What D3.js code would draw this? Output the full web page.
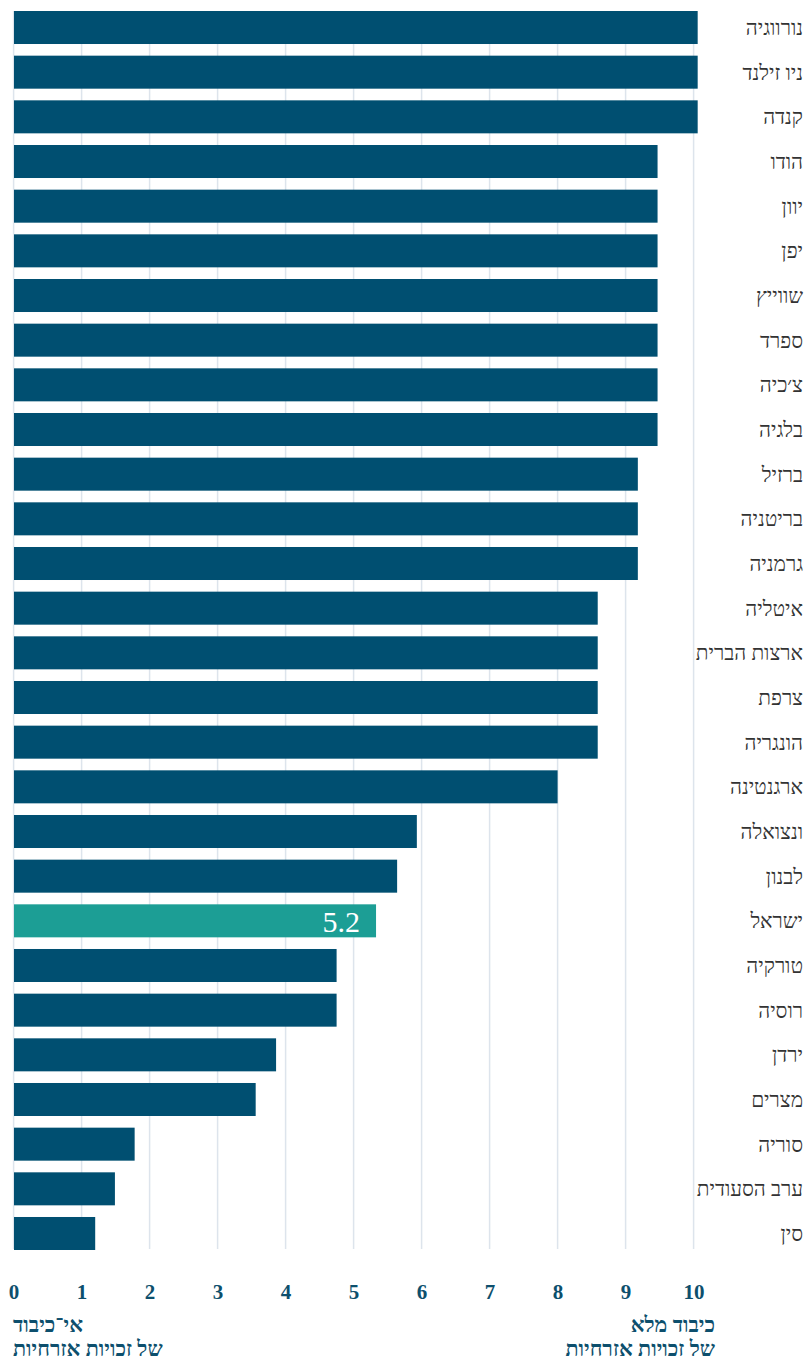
<!DOCTYPE html>
<html><head><meta charset="utf-8">
<script src="https://cdn.jsdelivr.net/npm/d3@7"></script>
<style>body{margin:0;background:#fff}svg{display:block}</style>
</head><body>
<svg id="c" width="808" height="1361"></svg>
<script>
const countries = ["נורווגיה","ניו זילנד","קנדה","הודו","יוון","יפן","שווייץ","ספרד","צ׳כיה","בלגיה","ברזיל","בריטניה","גרמניה","איטליה","ארצות הברית","צרפת","הונגריה","ארגנטינה","ונצואלה","לבנון","ישראל","טורקיה","רוסיה","ירדן","מצרים","סוריה","ערב הסעודית","סין"];
const values = [10.06,10.06,10.06,9.47,9.47,9.47,9.47,9.47,9.47,9.47,9.18,9.18,9.18,8.59,8.59,8.59,8.59,8.0,5.93,5.64,5.33,4.75,4.75,3.86,3.56,1.78,1.49,1.2];
const highlight = "ישראל";
const highlightLabel = "5.2";
const ticks = [0,1,2,3,4,5,6,7,8,9,10];
const leftCaption = ["אי־כיבוד","של זכויות אזרחיות"];
const rightCaption = ["כיבוד מלא","של זכויות אזרחיות"];

const svg = d3.select("#c");
const x = d3.scaleLinear().domain([0,10]).range([13.6,693.6]);
const y = d3.scaleBand().domain(countries).range([11,1250]).paddingInner(0.261).paddingOuter(0);
const data = countries.map((c,i)=>({c, v: values[i]}));

// gridlines
svg.append("g").selectAll("line").data(ticks).join("line")
  .attr("x1", d=>x(d)).attr("x2", d=>x(d))
  .attr("y1", 11).attr("y2", 1249)
  .attr("stroke", "#dde4ec").attr("stroke-width", 1.5);

// bars
svg.append("g").selectAll("rect").data(data).join("rect")
  .attr("x", x(0)+0.4).attr("y", d=>y(d.c))
  .attr("width", d=>x(d.v)-x(0)-0.4).attr("height", y.bandwidth())
  .attr("fill", d=> d.c===highlight ? "#1c9e95" : "#004f71");

// highlight value
const hd = data.find(d=>d.c===highlight);
svg.append("text").attr("x", x(hd.v)-16).attr("y", y(hd.c)+y.bandwidth()/2)
  .attr("dy","0.36em").attr("text-anchor","end")
  .attr("font-family","'Liberation Serif', serif").attr("font-size",30)
  .attr("fill","#fff").text(highlightLabel);

// country labels
svg.append("g").selectAll("text").data(data).join("text")
  .attr("x", 803).attr("y", d=>y(d.c)+y.bandwidth()/2)
  .attr("dy","0.36em").attr("text-anchor","end")
  .attr("font-family","'Liberation Serif', serif").attr("font-size",20.8)
  .attr("fill","#333").text(d=>d.c);

// axis
const axis = d3.axisBottom(x).tickValues(ticks).tickSize(0).tickFormat(d3.format("d"));
const ga = svg.append("g").attr("transform","translate(0,1284)").call(axis);
ga.select(".domain").remove();
ga.selectAll("text").attr("font-family","'Liberation Serif', serif").attr("font-weight","bold")
  .attr("font-size",21).attr("fill","#0d4f6d").attr("dy","0.71em").attr("y",0);

// captions
const cap = svg.append("g").attr("font-family","'Liberation Serif', serif").attr("font-weight","bold")
  .attr("font-size",21.5).attr("fill","#0d4f6d");
cap.selectAll(".l").data(leftCaption).join("text").attr("class","l")
  .attr("x", 13).attr("y",(d,i)=>1332+i*24).attr("text-anchor","start")
  .attr("direction","ltr").text(d=>d);
cap.selectAll(".r").data(rightCaption).join("text").attr("class","r")
  .attr("x", 715).attr("y",(d,i)=>1332+i*24).attr("text-anchor","end").text(d=>d);
</script>
</body></html>
